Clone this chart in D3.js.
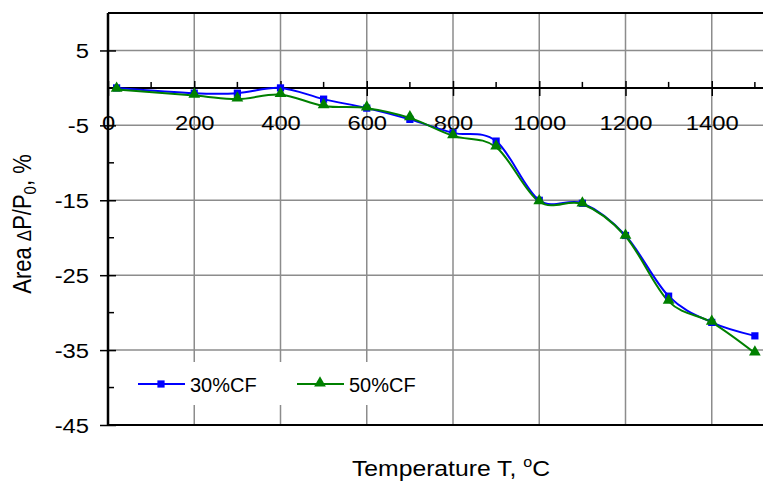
<!DOCTYPE html>
<html>
<head>
<meta charset="utf-8">
<script src="https://cdn.jsdelivr.net/npm/d3@7"></script>
<style>
  body { margin: 0; background: #fff; }
  svg { display: block; font-family: "Liberation Sans", Arial, sans-serif; }
</style>
</head>
<body>
<svg width="763" height="482"></svg>
<script>
// data
var temps = [20, 200, 300, 400, 500, 600, 700, 800, 900, 1000, 1100, 1200, 1300, 1400, 1500];
var cf30 = [0, -0.7, -0.7, 0, -1.5, -2.7, -4.2, -6.0, -7.1, -15.0, -15.4, -19.7, -27.8, -31.3, -33.1];
var cf50 = [-0.2, -1.0, -1.5, -0.9, -2.4, -2.7, -4.0, -6.4, -7.9, -15.2, -15.5, -19.8, -28.5, -31.3, -35.4];
var xTicks = [0, 200, 400, 600, 800, 1000, 1200, 1400];
var xMinor = [100, 300, 500, 700, 900, 1100, 1300, 1500];
var yTicks = [5, -5, -15, -25, -35, -45];
var yMinor = [0, -10, -20, -30, -40];

var svg = d3.select("svg");
var padL = 108, padT = 13, padB = 425, padR = 763;
var stretch = 1.22; // tick labels look wider than plain Arial

var x = d3.scaleLinear().domain([0, 1520]).range([padL, padL + 1520 * 0.43125]);
var y = d3.scaleLinear().domain([-45, 10]).range([padB, padT]);

// grid
var grid = svg.append("g").attr("stroke", "#8c8c8c").attr("stroke-width", 1.5);
grid.selectAll(".gx").data(xTicks.slice(1)).enter().append("line")
  .attr("x1", d => x(d)).attr("x2", d => x(d))
  .attr("y1", padT).attr("y2", padB);
grid.selectAll(".gy").data(yTicks.slice(0, -1)).enter().append("line")
  .attr("x1", padL).attr("x2", padR)
  .attr("y1", d => y(d)).attr("y2", d => y(d));

// frame
svg.append("line").attr("x1", padL).attr("x2", padR).attr("y1", padT).attr("y2", padT)
  .attr("stroke", "#000").attr("stroke-width", 2);
svg.append("line").attr("x1", padL).attr("x2", padR).attr("y1", padB).attr("y2", padB)
  .attr("stroke", "#000").attr("stroke-width", 2);

// legend box (drawn before lines, covers grid)
svg.append("rect").attr("x", 128).attr("y", 362).attr("width", 298).attr("height", 43)
  .attr("fill", "#fff");

// y axis
var yAxis = d3.axisLeft(y).tickValues(yTicks).tickSize(8).tickFormat(d => String(d));
var gy = svg.append("g").attr("transform", "translate(" + padL + ",0)").call(yAxis);
gy.select(".domain").attr("stroke-width", 2.5).attr("d", "M0," + padT + "V" + padB);
gy.selectAll(".tick line").attr("x2", -8).attr("x1", 8).attr("stroke-width", 1.5);
gy.selectAll(".tick text").attr("x", -19 / stretch).attr("dy", "0.36em")
  .attr("transform", "scale(" + stretch + ",1)")
  .attr("font-size", 19.5).attr("fill", "#000")
  .attr("font-family", "Liberation Sans, Arial, sans-serif");
gy.selectAll(".minor").data(yMinor).enter().append("line")
  .attr("x1", 0).attr("x2", 6).attr("y1", d => y(d)).attr("y2", d => y(d))
  .attr("stroke", "#000").attr("stroke-width", 1.5);

// x axis sits on y = 0
var xAxis = d3.axisBottom(x).tickValues(xTicks).tickSize(0).tickFormat(d => String(d));
var gx = svg.append("g").attr("transform", "translate(0," + y(0) + ")").call(xAxis);
gx.select(".domain").attr("stroke-width", 2).attr("d", "M" + padL + ",0H" + padR);
gx.selectAll(".tick line").attr("y1", -7).attr("y2", 8).attr("stroke-width", 1.5);
gx.selectAll(".tick text").attr("y", 42.5).attr("dy", 0)
  .attr("transform", "scale(" + stretch + ",1)")
  .attr("font-size", 19.5).attr("fill", "#000")
  .attr("font-family", "Liberation Sans, Arial, sans-serif");
gx.selectAll(".minor").data(xMinor).enter().append("line")
  .attr("x1", d => x(d)).attr("x2", d => x(d)).attr("y1", -6).attr("y2", 0)
  .attr("stroke", "#000").attr("stroke-width", 1.5);

// series
var line = d3.line().curve(d3.curveCardinal);
var pts30 = temps.map((t, i) => [x(t), y(cf30[i])]);
var pts50 = temps.map((t, i) => [x(t), y(cf50[i])]);

svg.append("path").attr("d", line(pts30)).attr("fill", "none")
  .attr("stroke", "#0000ff").attr("stroke-width", 2);
svg.append("path").attr("d", line(pts50)).attr("fill", "none")
  .attr("stroke", "#008000").attr("stroke-width", 2);

var sq = d3.symbol().type(d3.symbolSquare).size(52);
var tri = d3.symbol().type(d3.symbolTriangle).size(60);

svg.selectAll(".m30").data(pts30).enter().append("path")
  .attr("d", sq).attr("transform", d => "translate(" + d[0] + "," + d[1] + ")")
  .attr("fill", "#0000ff");
svg.selectAll(".m50").data(pts50).enter().append("path")
  .attr("d", tri).attr("transform", d => "translate(" + d[0] + "," + (d[1] - 1) + ")")
  .attr("fill", "#008000");

// legend
var legend = [
  {name: "30%CF", color: "#0000ff", sym: sq, x: 138},
  {name: "50%CF", color: "#008000", sym: tri, x: 297}
];
var lg = svg.selectAll(".lg").data(legend).enter().append("g")
  .attr("transform", d => "translate(" + d.x + ",384)");
lg.append("line").attr("x1", 0).attr("x2", 47).attr("stroke", d => d.color).attr("stroke-width", 2);
lg.append("path").attr("d", d => d.sym()).attr("fill", d => d.color)
  .attr("transform", d => "translate(23," + (d.name === "50%CF" ? -1 : 0) + ")");
lg.append("text").attr("x", 52).attr("y", 7.5).attr("font-size", 20).text(d => d.name);

// axis titles
svg.append("text").attr("transform", "translate(451,476) scale(1.15,1)")
  .attr("text-anchor", "middle").attr("font-size", 21.5)
  .call(t => {
    t.append("tspan").text("Temperature T, ");
    t.append("tspan").attr("font-size", 14).attr("dy", -9).text("o");
    t.append("tspan").attr("dy", 9).text("C");
  });

svg.append("text").attr("transform", "translate(31,224) scale(1.15,1) rotate(-90)")
  .attr("text-anchor", "middle").attr("font-size", 22)
  .call(t => {
    t.append("tspan").text("Area ");
    t.append("tspan").attr("font-size", 17).text("\u0394");
    t.append("tspan").text("P/P");
    t.append("tspan").attr("font-size", 15).attr("dy", 4).text("0");
    t.append("tspan").attr("dy", -4).text(", %");
  });
</script>
</body>
</html>
